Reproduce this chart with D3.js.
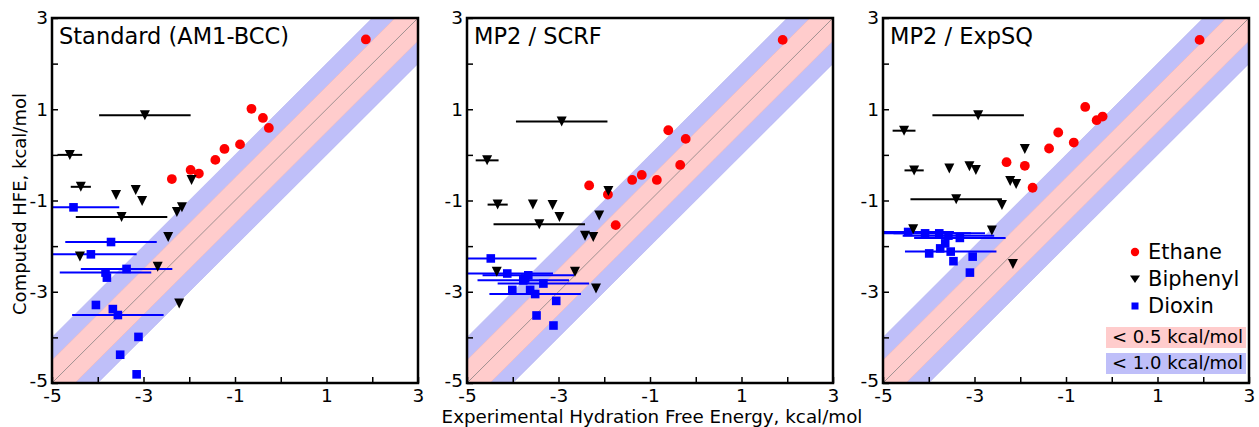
<!DOCTYPE html>
<html>
<head>
<meta charset="utf-8">
<script src="https://cdn.jsdelivr.net/npm/d3@7"></script>
<style>
  html, body { margin: 0; padding: 0; background: #fff; }
  svg { display: block; font-family: "DejaVu Sans", sans-serif; }
</style>
</head>
<body>
<svg id="chart" width="1259" height="427"></svg>
<script>
// Panel titles and shared tick values
const panelTitles = ["Standard (AM1-BCC)", "MP2 / SCRF", "MP2 / ExpSQ"];
const tickValues = [-5, -4, -3, -2, -1, 0, 1, 2, 3];
const labeledTicks = [-5, -3, -1, 1, 3];

// Ethane set: [experimental, computed]
const ethaneStd = [[1.86, 2.53], [-0.64, 1.01], [-0.39, 0.81], [-0.26, 0.59], [-0.89, 0.23],
  [-1.23, 0.13], [-1.43, -0.11], [-1.97, -0.33], [-1.79, -0.41], [-2.38, -0.53]];
const ethaneScrf = [[1.90, 2.52], [-0.60, 0.54], [-0.22, 0.35], [-0.34, -0.22], [-1.39, -0.55],
  [-1.18, -0.44], [-0.85, -0.55], [-2.33, -0.67], [-1.92, -0.87], [-1.75, -1.54]];
const ethaneExpsq = [[1.92, 2.52], [-0.58, 1.05], [-0.33, 0.76], [-0.20, 0.84], [-1.17, 0.49],
  [-0.83, 0.27], [-1.37, 0.14], [-2.30, -0.16], [-1.90, -0.24], [-1.73, -0.72]];

// Biphenyl set: [experimental, computed, experimental uncertainty]
const biphenylStd = [[-2.97, 0.87, 1.0], [-4.61, 0.0, 0.27], [-4.37, -0.70, 0.22], [-3.60, -0.88, 0],
  [-3.17, -0.77, 0], [-3.03, -1.01, 0], [-3.48, -1.36, 1.0], [-1.95, -0.55, 0], [-2.27, -1.25, 0],
  [-2.16, -1.15, 0], [-2.46, -1.80, 0], [-4.39, -2.23, 0], [-2.69, -2.45, 0], [-2.22, -3.26, 0]];
const biphenylScrf = [[-2.93, 0.73, 1.0], [-4.56, -0.12, 0.25], [-4.33, -1.09, 0.22], [-3.56, -1.09, 0],
  [-3.13, -1.10, 0], [-2.98, -1.36, 0], [-3.42, -1.52, 1.0], [-1.91, -0.79, 0], [-2.11, -1.33, 0],
  [-2.42, -1.77, 0], [-2.24, -1.80, 0], [-4.35, -2.56, 0], [-2.64, -2.56, 0], [-2.18, -2.93, 0]];
const biphenylExpsq = [[-2.92, 0.87, 1.0], [-4.54, 0.53, 0.25], [-4.32, -0.34, 0.21], [-3.55, -0.30, 0],
  [-3.11, -0.25, 0], [-2.97, -0.33, 0], [-3.40, -0.97, 1.0], [-1.90, 0.13, 0], [-2.22, -0.57, 0],
  [-2.09, -0.64, 0], [-2.40, -1.10, 0], [-4.34, -1.63, 0], [-2.62, -1.66, 0], [-2.16, -2.39, 0]];

// Dioxin set: [experimental, computed, experimental uncertainty]
const dioxinStd = [[-4.53, -1.15, 1.0], [-3.71, -1.91, 1.0], [-4.15, -2.18, 1.0], [-3.37, -2.50, 1.0],
  [-3.83, -2.58, 1.0], [-3.80, -2.69, 0], [-4.04, -3.29, 0], [-3.67, -3.38, 0], [-3.56, -3.51, 1.0],
  [-3.11, -3.99, 0], [-3.51, -4.38, 0], [-3.15, -4.81, 0]];
const dioxinScrf = [[-4.48, -2.27, 1.0], [-4.12, -2.60, 1.0], [-3.66, -2.64, 1.0], [-3.77, -2.75, 1.0],
  [-3.33, -2.82, 1.0], [-3.73, -2.71, 0], [-4.01, -2.96, 0], [-3.62, -2.96, 0], [-3.51, -3.05, 1.0],
  [-3.05, -3.20, 0], [-3.48, -3.52, 0], [-3.11, -3.74, 0]];
const dioxinExpsq = [[-4.45, -1.69, 1.0], [-4.08, -1.72, 1.0], [-3.77, -1.72, 1.0], [-3.57, -1.77, 1.0],
  [-3.32, -1.82, 1.0], [-3.64, -1.94, 0], [-3.75, -2.05, 0], [-3.99, -2.16, 0], [-3.52, -2.12, 1.0],
  [-3.46, -2.33, 0], [-3.04, -2.23, 0], [-3.10, -2.58, 0]];

// Accuracy bands drawn around the y = x line
const bandWidths = [1.0, 0.5];
const bandLabels = ["< 0.5 kcal/mol", "< 1.0 kcal/mol"];
const legendNames = ["Ethane", "Biphenyl", "Dioxin"];

const panels = [
  { title: panelTitles[0], ethane: ethaneStd, biphenyl: biphenylStd, dioxin: dioxinStd },
  { title: panelTitles[1], ethane: ethaneScrf, biphenyl: biphenylScrf, dioxin: dioxinScrf },
  { title: panelTitles[2], ethane: ethaneExpsq, biphenyl: biphenylExpsq, dioxin: dioxinExpsq }
];

const colors = { band1: "#bfbff9", band05: "#ffcccc", ethane: "#ff0000", biphenyl: "#000000", dioxin: "#0000ff" };
const svg = d3.select("#chart");
const panelLefts = [52, 467, 883];
const plotW = 366, plotTop = 18, plotBottom = 383;
const tickFont = 18.5;

const triangle = d3.symbol().type({
  draw(ctx, size) { // downward triangle, size used as half-width
    const s = size;
    ctx.moveTo(-s, -s); ctx.lineTo(s, -s); ctx.lineTo(0, s); ctx.closePath();
  }
}).size(5);

panels.forEach((p, i) => {
  const L = panelLefts[i];
  const x = d3.scaleLinear().domain([-5, 3]).range([L, L + plotW]);
  const y = d3.scaleLinear().domain([-5, 3]).range([plotBottom, plotTop]);
  const g = svg.append("g");
  const clipId = "clip" + i;
  svg.append("clipPath").attr("id", clipId).append("rect")
    .attr("x", L).attr("y", plotTop).attr("width", plotW).attr("height", plotBottom - plotTop);
  const inner = g.append("g").attr("clip-path", `url(#${clipId})`);

  // bands
  const dom = [-7, 5];
  bandWidths.forEach(w => {
    const poly = [[dom[0], dom[0] - w], [dom[1], dom[1] - w], [dom[1], dom[1] + w], [dom[0], dom[0] + w]];
    inner.append("path")
      .attr("d", d3.line().x(d => x(d[0])).y(d => y(d[1]))(poly) + "Z")
      .attr("fill", w === 1.0 ? colors.band1 : colors.band05)
      .attr("stroke", w === 1.0 ? "#b0b0ee" : "#f4b8b8").attr("stroke-width", 0.6);
  });
  inner.append("line")
    .attr("x1", x(-5)).attr("y1", y(-5)).attr("x2", x(3)).attr("y2", y(3))
    .attr("stroke", "#777").attr("stroke-width", 0.7);

  // error bars
  const errs = [[p.dioxin, colors.dioxin], [p.biphenyl, colors.biphenyl]];
  errs.forEach(([data, c]) => {
    inner.selectAll(null).data(data.filter(d => d[2] > 0)).enter().append("line")
      .attr("x1", d => x(d[0] - d[2])).attr("x2", d => x(d[0] + d[2]))
      .attr("y1", d => y(d[1])).attr("y2", d => y(d[1]))
      .attr("stroke", c).attr("stroke-width", 2);
  });

  // markers
  inner.selectAll(null).data(p.dioxin).enter().append("rect")
    .attr("x", d => x(d[0]) - 4.3).attr("y", d => y(d[1]) - 4.3)
    .attr("width", 8.6).attr("height", 8.6).attr("fill", colors.dioxin);
  inner.selectAll(null).data(p.ethane).enter().append("circle")
    .attr("cx", d => x(d[0])).attr("cy", d => y(d[1])).attr("r", 4.9).attr("fill", colors.ethane);
  inner.selectAll(null).data(p.biphenyl).enter().append("path")
    .attr("transform", d => `translate(${x(d[0])},${y(d[1])})`)
    .attr("d", triangle).attr("fill", colors.biphenyl);

  // axes
  const fmt = d => labeledTicks.includes(d) ? String(d) : "";
  const ax = g.append("g").attr("transform", `translate(0,${plotBottom})`)
    .call(d3.axisBottom(x).tickValues(tickValues).tickSize(-6).tickPadding(6).tickFormat(fmt));
  const ay = g.append("g").attr("transform", `translate(${L},0)`)
    .call(d3.axisLeft(y).tickValues(tickValues).tickSize(-6).tickPadding(4).tickFormat(fmt));
  [ax, ay].forEach(a => {
    a.select(".domain").remove();
    a.selectAll(".tick line").attr("stroke", "#000").attr("stroke-width", 1.5);
    a.selectAll(".tick text").attr("fill", "#000").style("font-size", tickFont + "px")
      .style("font-family", "DejaVu Sans");
  });
  // keep the lowest y label clear of the first x label
  ay.selectAll(".tick text").filter(d => d === -5).attr("dy", "0.2em");

  // frame
  g.append("rect").attr("x", L).attr("y", plotTop).attr("width", plotW).attr("height", plotBottom - plotTop)
    .attr("fill", "none").attr("stroke", "#000").attr("stroke-width", 2.5);

  // title
  g.append("text").attr("x", L + 7).attr("y", plotTop + 26).text(p.title)
    .style("font-size", "22.5px").attr("fill", "#000");

  // legend in last panel
  if (i === 2) {
    const lx = 1135;
    const lg = g.append("g");
    const rows = [252, 279, 306];
    lg.append("circle").attr("cx", lx).attr("cy", rows[0]).attr("r", 4.2).attr("fill", colors.ethane);
    lg.append("path").attr("transform", `translate(${lx},${rows[1]})`)
      .attr("d", d3.symbol().type({ draw(ctx) { ctx.moveTo(-5, -3.5); ctx.lineTo(5, -3.5); ctx.lineTo(0, 4); ctx.closePath(); } })())
      .attr("fill", colors.biphenyl);
    lg.append("rect").attr("x", lx - 3.5).attr("y", rows[2] - 3.5).attr("width", 7).attr("height", 7)
      .attr("fill", colors.dioxin);
    legendNames.forEach((n, k) => {
      lg.append("text").attr("x", 1148).attr("y", rows[k] + 7).text(n).style("font-size", "21px");
    });
    const boxes = [[327, colors.band05], [353, colors.band1]];
    boxes.forEach(([by, c], k) => {
      lg.append("rect").attr("x", 1106).attr("y", by).attr("width", 140).attr("height", 21).attr("fill", c);
      lg.append("text").attr("x", 1112).attr("y", by + 16).text(bandLabels[k]).style("font-size", "18px");
    });
  }
});

// axis titles
svg.append("text").attr("transform", "translate(26,204) rotate(-90)").attr("text-anchor", "middle")
  .style("font-size", "18px").text("Computed HFE, kcal/mol");
svg.append("text").attr("x", 652).attr("y", 423).attr("text-anchor", "middle")
  .style("font-size", "18.3px").text("Experimental Hydration Free Energy, kcal/mol");
</script>
</body>
</html>
